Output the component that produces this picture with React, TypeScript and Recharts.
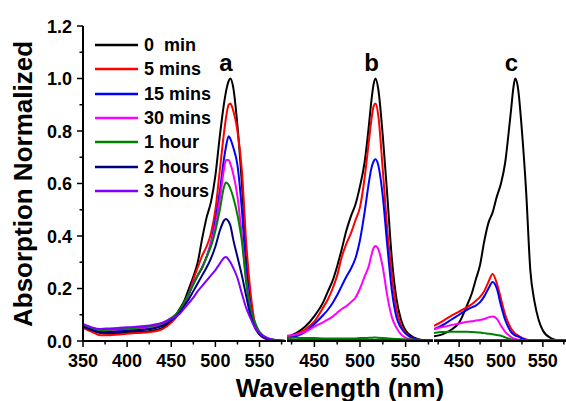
import React from "react";
import { LineChart, Line, XAxis, YAxis, Legend } from "recharts";

const FONT = "'Liberation Sans', Arial, sans-serif";

const SERIES_KEYS = ["m0", "m5", "m15", "m30", "h1", "h2", "h3"];
const SERIES_NAMES = ["0  min", "5 mins", "15 mins", "30 mins", "1 hour", "2 hours", "3 hours"];
const SERIES_COLORS = ["#000000", "#ff0000", "#0000ff", "#ff00ff", "#008000", "#000080", "#8000ff"];

const Y_TICKS = [0, 0.1, 0.2, 0.3, 0.4, 0.5, 0.6, 0.7, 0.8, 0.9, 1.0, 1.1, 1.2];
const X_TICKS_A = [350, 375, 400, 425, 450, 475, 500, 525, 550, 575];
const X_TICKS_BC = [425, 450, 475, 500, 525, 550, 575];
const PANEL_LABELS = ["a", "b", "c"];

// panel a
const WL_A = [350, 360, 370, 380, 390, 400, 410, 420, 430, 440, 450, 460, 465, 470, 475, 480, 485, 490, 495, 500, 505, 510, 512, 515, 517, 520, 525, 530, 535, 540, 545, 550, 560, 570, 580];
const A_0MIN = [0.055, 0.04, 0.03, 0.028, 0.03, 0.032, 0.034, 0.036, 0.04, 0.05, 0.075, 0.125, 0.155, 0.2, 0.245, 0.3, 0.39, 0.47, 0.53, 0.63, 0.78, 0.91, 0.95, 0.99, 1.0, 0.97, 0.82, 0.6, 0.33, 0.15, 0.055, 0.025, 0.005, 0.001, 0];
const A_5MIN = [0.05, 0.035, 0.022, 0.022, 0.025, 0.028, 0.03, 0.032, 0.036, 0.045, 0.07, 0.11, 0.144, 0.18, 0.235, 0.28, 0.325, 0.36, 0.41, 0.5, 0.65, 0.8, 0.85, 0.9, 0.905, 0.88, 0.8, 0.65, 0.37, 0.18, 0.065, 0.03, 0.007, 0.002, 0];
const A_15MIN = [0.06, 0.045, 0.035, 0.036, 0.038, 0.04, 0.042, 0.045, 0.05, 0.06, 0.08, 0.11, 0.144, 0.18, 0.22, 0.25, 0.28, 0.32, 0.375, 0.46, 0.57, 0.7, 0.74, 0.78, 0.77, 0.74, 0.67, 0.5, 0.26, 0.13, 0.06, 0.028, 0.007, 0.002, 0];
const A_30MIN = [0.062, 0.05, 0.042, 0.042, 0.044, 0.046, 0.048, 0.05, 0.054, 0.062, 0.08, 0.11, 0.145, 0.18, 0.22, 0.25, 0.28, 0.32, 0.37, 0.44, 0.54, 0.66, 0.69, 0.69, 0.675, 0.64, 0.55, 0.4, 0.23, 0.12, 0.055, 0.026, 0.007, 0.002, 0];
const A_1H = [0.058, 0.048, 0.042, 0.043, 0.045, 0.047, 0.05, 0.053, 0.058, 0.068, 0.088, 0.12, 0.15, 0.18, 0.215, 0.25, 0.28, 0.32, 0.36, 0.42, 0.5, 0.59, 0.604, 0.595, 0.58, 0.55, 0.48, 0.38, 0.22, 0.12, 0.07, 0.035, 0.01, 0.003, 0];
const A_2H = [0.055, 0.042, 0.032, 0.033, 0.035, 0.038, 0.04, 0.043, 0.048, 0.058, 0.078, 0.11, 0.135, 0.16, 0.19, 0.22, 0.25, 0.28, 0.315, 0.36, 0.42, 0.46, 0.465, 0.455, 0.44, 0.39, 0.32, 0.25, 0.17, 0.095, 0.05, 0.025, 0.007, 0.002, 0];
const A_3H = [0.065, 0.052, 0.046, 0.048, 0.05, 0.052, 0.054, 0.057, 0.062, 0.07, 0.085, 0.105, 0.125, 0.145, 0.165, 0.19, 0.21, 0.23, 0.25, 0.27, 0.295, 0.318, 0.32, 0.31, 0.3, 0.28, 0.24, 0.18, 0.125, 0.085, 0.05, 0.03, 0.01, 0.003, 0];

// panels b and c share the wavelength grid
const WL_BC = [420, 430, 440, 450, 460, 465, 470, 475, 480, 485, 490, 495, 500, 505, 510, 512, 515, 517, 520, 525, 530, 535, 540, 545, 550, 560, 570, 580];
const B_0MIN = [0.015, 0.03, 0.055, 0.095, 0.15, 0.19, 0.23, 0.285, 0.35, 0.42, 0.475, 0.52, 0.59, 0.68, 0.83, 0.9, 0.98, 1.0, 0.96, 0.78, 0.55, 0.31, 0.16, 0.08, 0.04, 0.012, 0.002, 0];
const B_5MIN = [0.015, 0.025, 0.045, 0.075, 0.13, 0.16, 0.2, 0.25, 0.32, 0.37, 0.41, 0.46, 0.51, 0.62, 0.77, 0.83, 0.895, 0.905, 0.86, 0.65, 0.42, 0.25, 0.12, 0.06, 0.03, 0.008, 0.002, 0];
const B_15MIN = [0.01, 0.018, 0.035, 0.065, 0.1, 0.12, 0.145, 0.175, 0.21, 0.245, 0.275, 0.315, 0.385, 0.49, 0.61, 0.65, 0.685, 0.692, 0.67, 0.55, 0.36, 0.19, 0.09, 0.05, 0.028, 0.008, 0.002, 0];
const B_30MIN = [0.02, 0.025, 0.035, 0.055, 0.072, 0.082, 0.093, 0.108, 0.122, 0.133, 0.148, 0.165, 0.2, 0.245, 0.29, 0.32, 0.355, 0.362, 0.35, 0.28, 0.17, 0.09, 0.05, 0.025, 0.012, 0.004, 0.001, 0];
const B_1H = [0.012, 0.012, 0.011, 0.011, 0.01, 0.01, 0.01, 0.01, 0.01, 0.01, 0.01, 0.01, 0.011, 0.011, 0.012, 0.012, 0.013, 0.013, 0.012, 0.011, 0.01, 0.009, 0.008, 0.007, 0.006, 0.005, 0.004, 0.003];
const B_2H = [0.004, 0.004, 0.004, 0.004, 0.004, 0.004, 0.004, 0.004, 0.004, 0.004, 0.004, 0.004, 0.004, 0.004, 0.004, 0.004, 0.004, 0.004, 0.004, 0.004, 0.004, 0.004, 0.004, 0.004, 0.004, 0.004, 0.004, 0.004];
const B_3H = [0.003, 0.003, 0.003, 0.003, 0.003, 0.003, 0.003, 0.003, 0.003, 0.003, 0.003, 0.003, 0.003, 0.003, 0.003, 0.003, 0.003, 0.003, 0.003, 0.003, 0.003, 0.003, 0.003, 0.003, 0.003, 0.003, 0.003, 0.003];

const C_0MIN = [0.018, 0.025, 0.042, 0.07, 0.14, 0.18, 0.235, 0.29, 0.38, 0.45, 0.49, 0.55, 0.6, 0.68, 0.82, 0.88, 0.97, 1.0, 0.97, 0.8, 0.57, 0.27, 0.15, 0.08, 0.04, 0.01, 0.002, 0];
const C_5MIN = [0.058, 0.075, 0.095, 0.112, 0.13, 0.14, 0.153, 0.168, 0.19, 0.225, 0.255, 0.22, 0.16, 0.1, 0.06, 0.048, 0.035, 0.028, 0.022, 0.012, 0.006, 0.003, 0.002, 0.001, 0, 0, 0, 0];
const C_15MIN = [0.045, 0.06, 0.08, 0.1, 0.12, 0.128, 0.135, 0.148, 0.17, 0.2, 0.225, 0.2, 0.135, 0.08, 0.045, 0.035, 0.025, 0.021, 0.018, 0.01, 0.005, 0.003, 0.002, 0.001, 0, 0, 0, 0];
const C_30MIN = [0.045, 0.053, 0.06, 0.067, 0.073, 0.075, 0.078, 0.08, 0.084, 0.09, 0.093, 0.085, 0.058, 0.035, 0.02, 0.015, 0.01, 0.008, 0.005, 0.003, 0.002, 0.001, 0, 0, 0, 0, 0, 0];
const C_1H = [0.03, 0.034, 0.035, 0.035, 0.035, 0.034, 0.033, 0.032, 0.03, 0.028, 0.026, 0.023, 0.02, 0.014, 0.008, 0.006, 0.004, 0.003, 0.003, 0.002, 0.001, 0.001, 0, 0, 0, 0, 0, 0];
const C_2H = [0.003, 0.003, 0.003, 0.003, 0.003, 0.003, 0.003, 0.003, 0.003, 0.003, 0.003, 0.003, 0.003, 0.003, 0.003, 0.003, 0.003, 0.003, 0.003, 0.003, 0.003, 0.003, 0.003, 0.003, 0.003, 0.003, 0.003, 0.003];
const C_3H = [0.004, 0.004, 0.004, 0.004, 0.004, 0.004, 0.004, 0.004, 0.004, 0.004, 0.004, 0.004, 0.004, 0.004, 0.004, 0.004, 0.004, 0.004, 0.004, 0.004, 0.004, 0.004, 0.004, 0.004, 0.004, 0.004, 0.004, 0.004];

function buildTable(wl: number[], cols: number[][]) {
  return wl.map((w, i) => {
    const row: Record<string, number> = { wl: w };
    SERIES_KEYS.forEach((k, j) => {
      row[k] = cols[j][i];
    });
    return row;
  });
}

const tableA = buildTable(WL_A, [A_0MIN, A_5MIN, A_15MIN, A_30MIN, A_1H, A_2H, A_3H]);
const tableB = buildTable(WL_BC, [B_0MIN, B_5MIN, B_15MIN, B_30MIN, B_1H, B_2H, B_3H]);
const tableC = buildTable(WL_BC, [C_0MIN, C_5MIN, C_15MIN, C_30MIN, C_1H, C_2H, C_3H]);

const TS = 6;
const TM = 5;

const XTick = (props: any) => {
  const { x, y, payload } = props;
  const v = payload.value;
  const major = v % 50 === 0;
  const axisY = y - TS - TM;
  return (
    <g>
      <line x1={x} x2={x} y1={axisY} y2={axisY + (major ? 6 : 3.5)} stroke="#000" strokeWidth={1.5} />
      {major && (
        <text x={x} y={axisY + 25.5} textAnchor="middle" fontSize={18} fontWeight="bold" fontFamily={FONT} fill="#000">
          {v}
        </text>
      )}
    </g>
  );
};

const YTick = (props: any) => {
  const { x, y, payload } = props;
  const v = payload.value;
  const major = Math.round(v * 10) % 2 === 0;
  const axisX = x + TS + TM;
  return (
    <g>
      <line x1={axisX - (major ? 6 : 3.5)} x2={axisX} y1={y} y2={y} stroke="#000" strokeWidth={1.5} />
      {major && (
        <text x={axisX - 11} y={y + 6.5} textAnchor="end" fontSize={18} fontWeight="bold" fontFamily={FONT} fill="#000">
          {v.toFixed(1)}
        </text>
      )}
    </g>
  );
};

// legend keeps the series order (recharts would sort it by name)
const renderLegend = () => (
  <div style={{ fontFamily: FONT, fontWeight: "bold", fontSize: 18 }}>
    {SERIES_NAMES.map((name, i) => (
      <div key={name} style={{ display: "flex", alignItems: "center", height: 24.3 }}>
        <svg width={43} height={4} style={{ display: "block" }}>
          <line x1={0} x2={43} y1={2} y2={2} stroke={SERIES_COLORS[i]} strokeWidth={2.5} />
        </svg>
        <span style={{ marginLeft: 6, whiteSpace: "pre", lineHeight: "24px", color: "#000" }}>{name}</span>
      </div>
    ))}
  </div>
);

const axisLine = { stroke: "#000", strokeWidth: 2 };

function seriesLines() {
  return SERIES_KEYS.map((k, i) => (
    <Line
      key={k}
      type="monotone"
      dataKey={k}
      name={SERIES_NAMES[i]}
      stroke={SERIES_COLORS[i]}
      strokeWidth={2}
      dot={false}
      isAnimationActive={false}
    />
  ));
}

function panelXAxis(domain: [number, number], ticks: number[]) {
  return (
    <XAxis
      dataKey="wl"
      type="number"
      domain={domain}
      ticks={ticks}
      interval={0}
      allowDataOverflow
      tick={<XTick />}
      tickLine={false}
      tickSize={TS}
      tickMargin={TM}
      axisLine={axisLine}
      height={30}
    />
  );
}

export default function App() {
  return (
    <div
      style={{
        position: "absolute",
        left: 0,
        top: 0,
        width: 566,
        height: 401,
        overflow: "hidden",
        background: "#fff",
        fontFamily: FONT,
      }}
    >
      <div style={{ position: "absolute", left: 0, top: 0 }}>
        <LineChart width={286} height={401} data={tableA} margin={{ top: 26, right: 0, bottom: 30, left: 0 }}>
          {panelXAxis([350, 580], X_TICKS_A)}
          <YAxis
            type="number"
            domain={[0, 1.2]}
            ticks={Y_TICKS}
            interval={0}
            width={83}
            tick={<YTick />}
            tickLine={false}
            tickSize={TS}
            tickMargin={TM}
            axisLine={axisLine}
          />
          <Legend
            layout="vertical"
            align="center"
            verticalAlign="middle"
            wrapperStyle={{ left: 95, top: 33, width: 180, height: "auto" }}
            content={renderLegend}
          />
          {seriesLines()}
        </LineChart>
      </div>
      <div style={{ position: "absolute", left: 287, top: 0 }}>
        <LineChart width={146} height={401} data={tableB} margin={{ top: 26, right: 0, bottom: 30, left: 0 }}>
          {panelXAxis([420, 580], X_TICKS_BC)}
          <YAxis type="number" domain={[0, 1.2]} hide />
          {seriesLines()}
        </LineChart>
      </div>
      <div style={{ position: "absolute", left: 434, top: 0 }}>
        <LineChart width={134} height={401} data={tableC} margin={{ top: 26, right: 0, bottom: 30, left: 0 }}>
          {panelXAxis([420, 580], X_TICKS_BC)}
          <YAxis type="number" domain={[0, 1.2]} hide />
          {seriesLines()}
        </LineChart>
      </div>
      <svg
        width={566}
        height={401}
        style={{ position: "absolute", left: 0, top: 0, pointerEvents: "none" }}
        fontFamily={FONT}
        fontWeight="bold"
      >
        <text transform="translate(31.5,184) rotate(-90)" textAnchor="middle" fontSize={26} fill="#000">
          Absorption Normalized
        </text>
        <text x={340} y={396.5} textAnchor="middle" fontSize={26} fill="#000">
          Wavelength (nm)
        </text>
        {PANEL_LABELS.map((t, i) => (
          <text key={t} x={[226, 371.5, 511.5][i]} y={71} textAnchor="middle" fontSize={24} fill="#000">
            {t}
          </text>
        ))}
      </svg>
    </div>
  );
}
